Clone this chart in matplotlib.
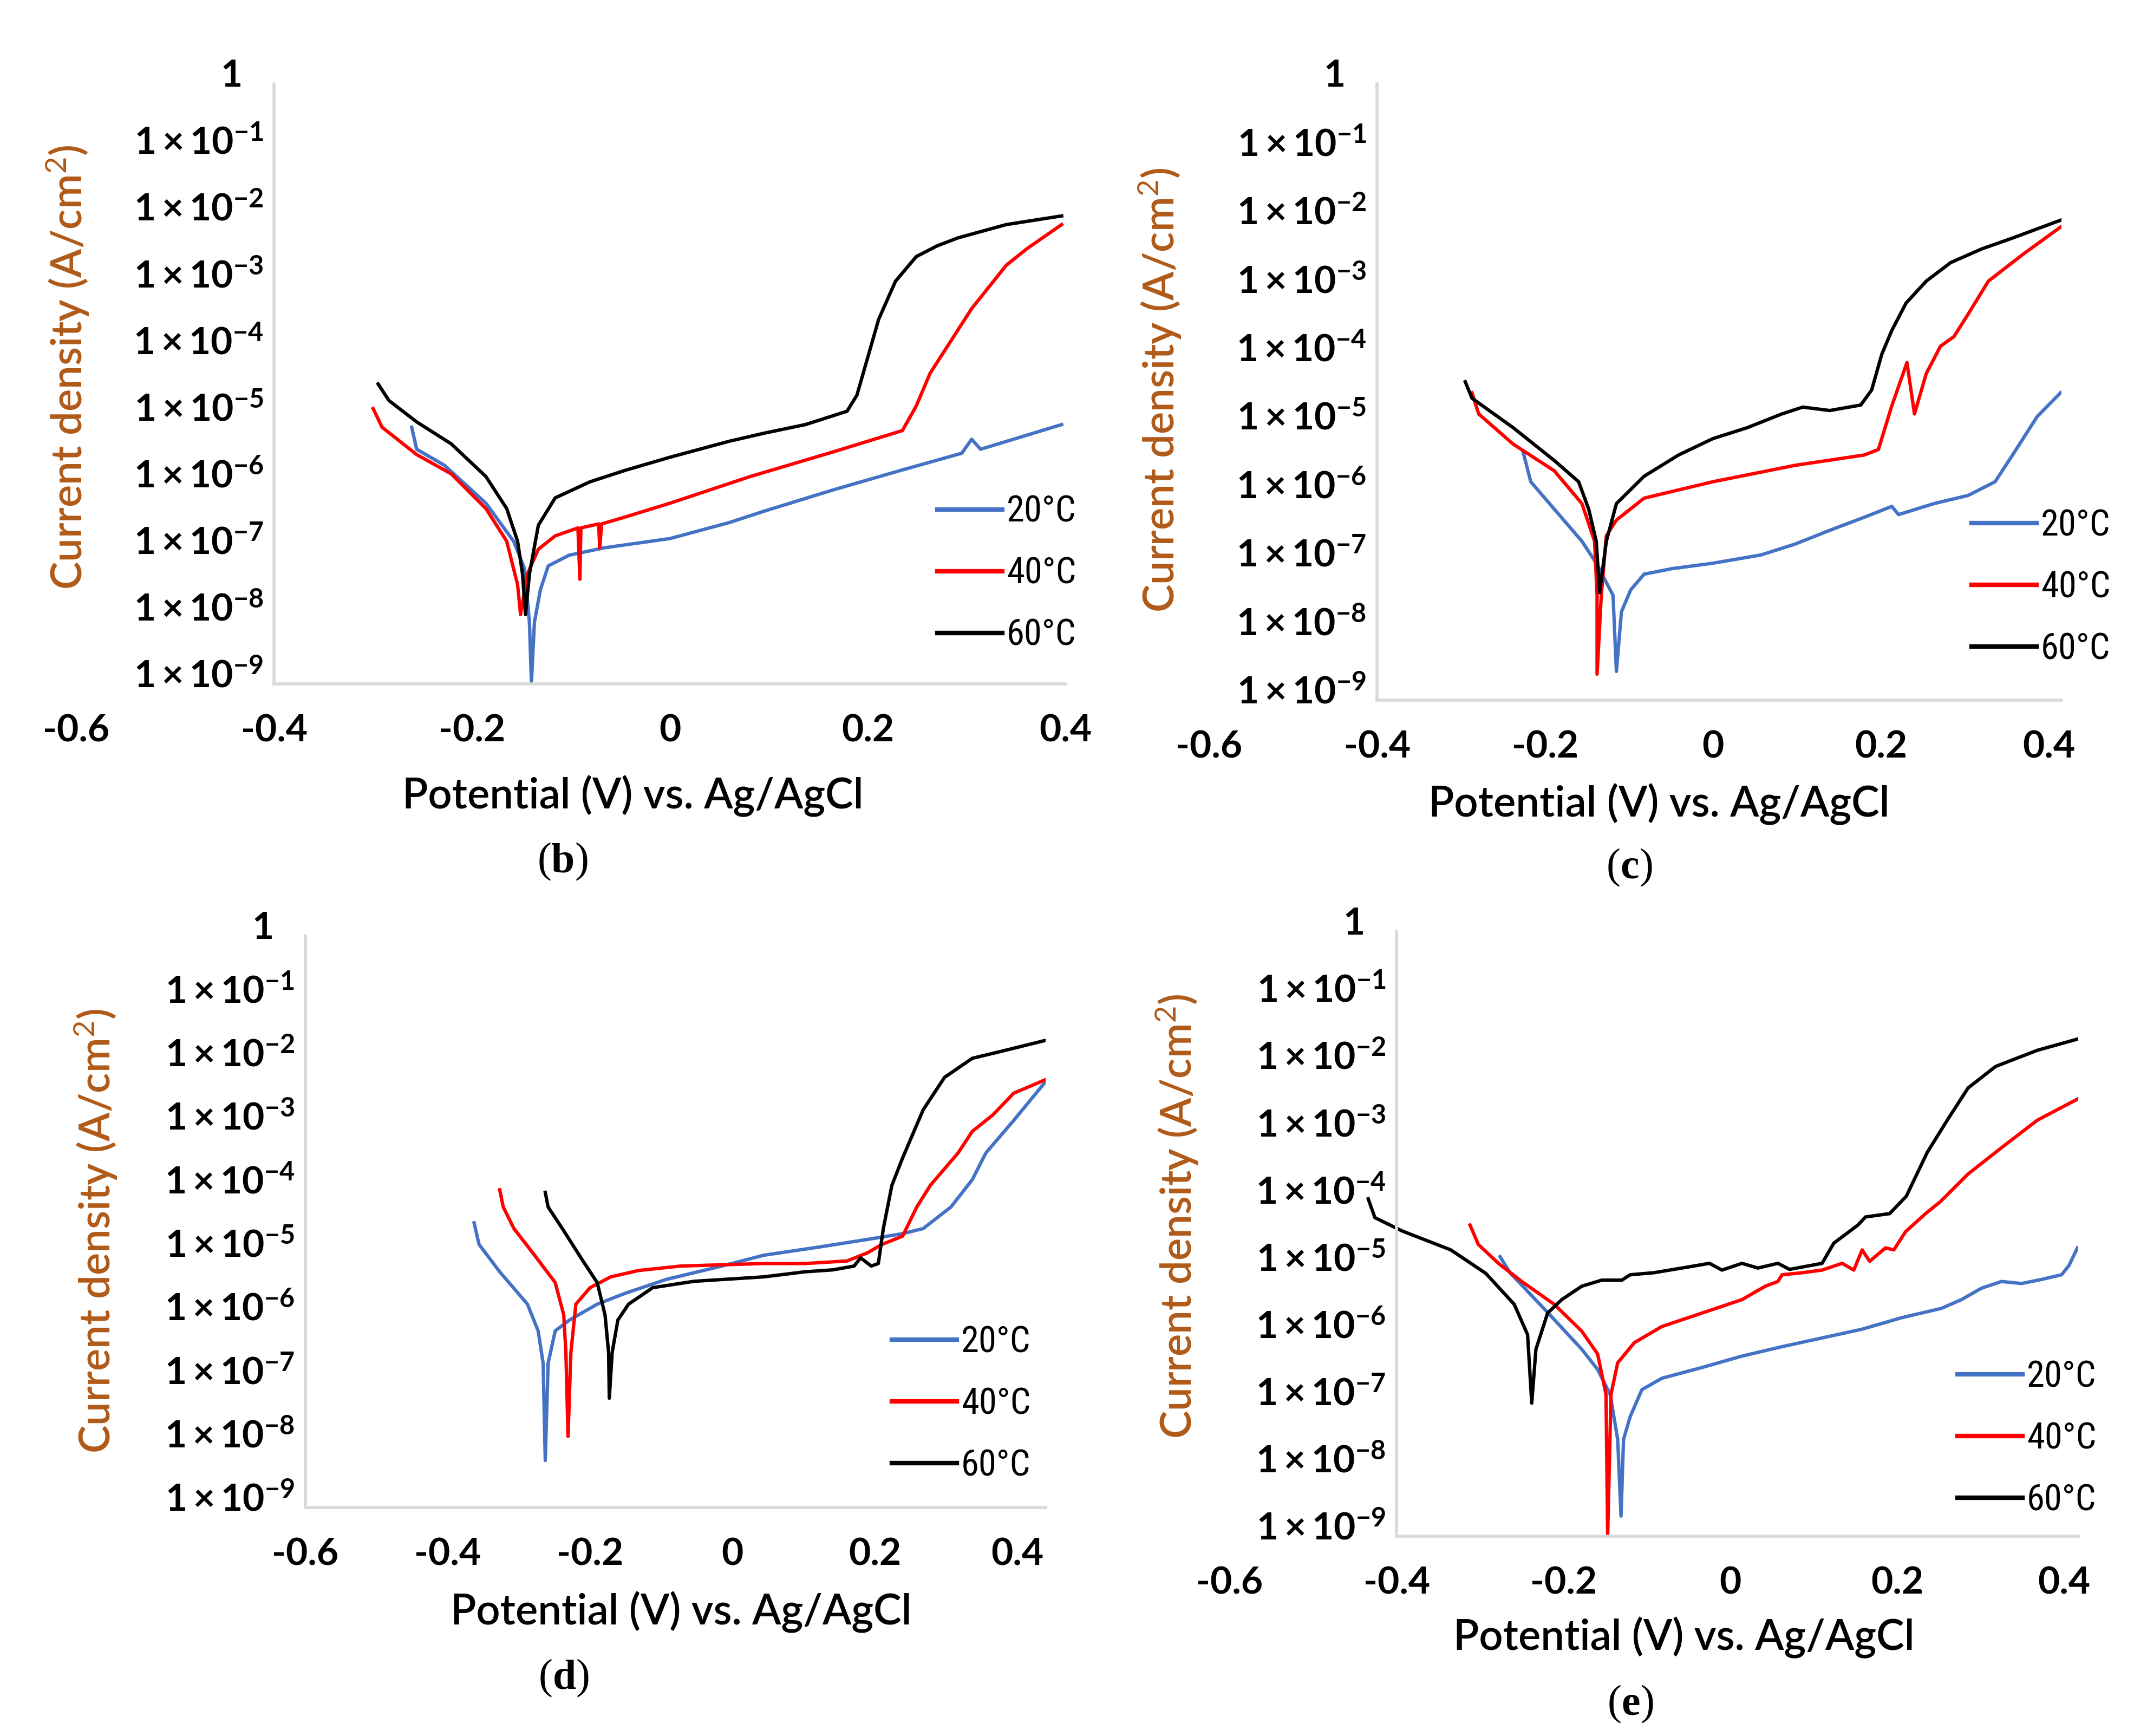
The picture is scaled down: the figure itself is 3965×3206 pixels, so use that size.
import numpy as np
import matplotlib.pyplot as plt
from matplotlib import font_manager
from matplotlib.font_manager import FontProperties
from matplotlib.offsetbox import TextArea, HPacker, AnnotationBbox
from matplotlib.transforms import ScaledTranslation

plt.rcParams['font.family'] = ['Lato', 'DejaVu Sans']
plt.rcParams['mathtext.fontset'] = 'custom'
plt.rcParams['mathtext.rm'] = 'Lato'
plt.rcParams['mathtext.bf'] = 'Lato:bold'
plt.rcParams['mathtext.it'] = 'Lato:italic'
plt.rcParams['axes.unicode_minus'] = False

# ---- data: potential (V vs Ag/AgCl) and log10 of current density (A/cm2)
temps = ['20°C', '40°C', '60°C']
colors = ['#4472C4', '#FF0000', '#000000']

# (b)
b_20_E = [-0.261, -0.256, -0.228, -0.186, -0.158, -0.147, -0.142, -0.140, -0.137, -0.131, -0.123,
          -0.102, -0.067, 0.0, 0.060, 0.095, 0.165, 0.235, 0.295, 0.305, 0.314, 0.396]
b_20_logi = [-5.15, -5.48, -5.72, -6.29, -6.86, -7.27, -8.08, -8.98, -8.08, -7.59, -7.23,
             -7.07, -6.96, -6.82, -6.58, -6.41, -6.09, -5.79, -5.54, -5.33, -5.48, -5.11]
b_40_E = [-0.300, -0.291, -0.256, -0.221, -0.186, -0.165, -0.154, -0.151, -0.144, -0.133, -0.116,
          -0.093, -0.091, -0.090, -0.072, -0.071, -0.069, -0.046, 0.0, 0.081, 0.165, 0.235, 0.249,
          0.263, 0.305, 0.340, 0.361, 0.396]
b_40_logi = [-4.87, -5.15, -5.56, -5.85, -6.37, -6.86, -7.51, -7.96, -7.35, -6.98, -6.78,
             -6.66, -7.43, -6.66, -6.60, -6.96, -6.60, -6.50, -6.29, -5.89, -5.52, -5.20, -4.83,
             -4.34, -3.37, -2.72, -2.47, -2.11]
b_60_E = [-0.295, -0.284, -0.256, -0.221, -0.186, -0.165, -0.154, -0.149, -0.146, -0.142, -0.133,
          -0.116, -0.081, -0.046, 0.0, 0.060, 0.095, 0.137, 0.179, 0.189, 0.200, 0.211, 0.228,
          0.249, 0.270, 0.291, 0.340, 0.396]
b_60_logi = [-4.50, -4.75, -5.07, -5.40, -5.89, -6.37, -6.86, -7.35, -7.96, -7.35, -6.62,
             -6.21, -5.97, -5.80, -5.60, -5.36, -5.24, -5.11, -4.91, -4.67, -4.10, -3.53, -2.96,
             -2.59, -2.43, -2.31, -2.11, -1.98]

# (c)
c_20_E = [-0.226, -0.217, -0.189, -0.156, -0.139, -0.127, -0.119, -0.115, -0.109, -0.098, -0.082,
          -0.049, 0.0, 0.057, 0.098, 0.139, 0.180, 0.213, 0.221, 0.263, 0.304, 0.336, 0.361,
          0.386, 0.414]
c_20_logi = [-5.38, -5.81, -6.21, -6.68, -7.00, -7.28, -7.47, -8.58, -7.71, -7.39, -7.16,
             -7.08, -7.00, -6.88, -6.72, -6.52, -6.33, -6.17, -6.29, -6.13, -6.01, -5.81, -5.34,
             -4.86, -4.51]
c_40_E = [-0.287, -0.279, -0.238, -0.189, -0.156, -0.141, -0.138, -0.138, -0.133, -0.127, -0.115,
          -0.082, 0.0, 0.098, 0.180, 0.197, 0.213, 0.231, 0.240, 0.254, 0.271, 0.287, 0.304,
          0.328, 0.369, 0.414]
c_40_logi = [-4.51, -4.82, -5.26, -5.65, -6.13, -6.68, -7.47, -8.62, -7.47, -6.60, -6.37,
             -6.05, -5.81, -5.57, -5.42, -5.34, -4.70, -4.07, -4.82, -4.23, -3.83, -3.69, -3.36,
             -2.88, -2.49, -2.09]
c_60_E = [-0.295, -0.287, -0.238, -0.189, -0.160, -0.148, -0.139, -0.135, -0.127, -0.115, -0.082,
          -0.041, 0.0, 0.041, 0.082, 0.107, 0.139, 0.176, 0.189, 0.201, 0.213, 0.230, 0.254,
          0.283, 0.320, 0.357, 0.414]
c_60_logi = [-4.35, -4.59, -5.02, -5.50, -5.81, -6.21, -6.68, -7.43, -6.68, -6.13, -5.73,
             -5.42, -5.18, -5.02, -4.82, -4.72, -4.77, -4.69, -4.47, -3.95, -3.60, -3.20, -2.88,
             -2.61, -2.41, -2.25, -1.99]

# (d)
d_20_E = [-0.363, -0.356, -0.327, -0.288, -0.273, -0.266, -0.263, -0.259, -0.249, -0.229, -0.190,
          -0.151, -0.093, -0.015, 0.044, 0.122, 0.190, 0.239, 0.268, 0.307, 0.337, 0.356, 0.395,
          0.439]
d_20_logi = [-4.52, -4.86, -5.29, -5.80, -6.22, -6.73, -8.26, -6.73, -6.22, -6.05, -5.80,
             -5.63, -5.41, -5.20, -5.03, -4.90, -4.78, -4.69, -4.61, -4.27, -3.84, -3.42, -2.91,
             -2.31]
d_40_E = [-0.327, -0.322, -0.307, -0.278, -0.249, -0.237, -0.234, -0.231, -0.227, -0.220, -0.200,
          -0.171, -0.132, -0.073, 0.044, 0.102, 0.161, 0.190, 0.210, 0.239, 0.259, 0.278, 0.317,
          0.337, 0.366, 0.395, 0.439]
d_40_logi = [-4.00, -4.27, -4.61, -5.03, -5.46, -5.97, -6.56, -7.88, -6.56, -5.80, -5.54,
             -5.37, -5.27, -5.20, -5.16, -5.16, -5.12, -4.99, -4.86, -4.73, -4.27, -3.93, -3.42,
             -3.08, -2.82, -2.48, -2.27]
d_60_E = [-0.263, -0.259, -0.239, -0.210, -0.190, -0.179, -0.174, -0.173, -0.169, -0.161, -0.146,
          -0.112, -0.054, 0.044, 0.102, 0.141, 0.171, 0.180, 0.195, 0.205, 0.212, 0.224, 0.239,
          0.268, 0.298, 0.337, 0.385, 0.439]
d_60_logi = [-4.04, -4.27, -4.61, -5.12, -5.46, -5.97, -6.56, -7.28, -6.56, -6.05, -5.80,
             -5.54, -5.44, -5.37, -5.29, -5.26, -5.20, -5.07, -5.20, -5.16, -4.61, -3.93, -3.50,
             -2.74, -2.23, -1.93, -1.80, -1.65]

# (e)
e_20_E = [-0.276, -0.264, -0.216, -0.178, -0.159, -0.144, -0.135, -0.131, -0.128, -0.120, -0.106,
          -0.082, -0.034, 0.014, 0.062, 0.110, 0.158, 0.205, 0.253, 0.277, 0.301, 0.325, 0.349,
          0.373, 0.397, 0.406, 0.416]
e_20_logi = [-4.84, -5.08, -5.71, -6.22, -6.52, -6.89, -7.56, -8.70, -7.56, -7.22, -6.82,
             -6.65, -6.49, -6.32, -6.18, -6.05, -5.92, -5.75, -5.61, -5.48, -5.31, -5.21, -5.24,
             -5.18, -5.11, -4.97, -4.71]
e_40_E = [-0.312, -0.302, -0.277, -0.250, -0.211, -0.178, -0.159, -0.149, -0.147, -0.143, -0.135,
          -0.115, -0.082, -0.034, 0.014, 0.042, 0.057, 0.062, 0.086, 0.110, 0.134, 0.148, 0.158,
          0.167, 0.186, 0.196, 0.210, 0.234, 0.252, 0.285, 0.326, 0.368, 0.417]
e_40_logi = [-4.37, -4.66, -4.95, -5.21, -5.55, -5.95, -6.29, -6.89, -8.99, -6.89, -6.42,
             -6.12, -5.88, -5.68, -5.48, -5.28, -5.21, -5.11, -5.08, -5.04, -4.94, -5.04, -4.74,
             -4.91, -4.71, -4.74, -4.47, -4.20, -4.02, -3.61, -3.21, -2.81, -2.49]
e_60_E = [-0.434, -0.426, -0.393, -0.335, -0.293, -0.259, -0.243, -0.238, -0.233, -0.219, -0.202,
          -0.178, -0.154, -0.130, -0.120, -0.092, -0.058, -0.025, -0.010, 0.014, 0.033, 0.057,
          0.071, 0.110, 0.124, 0.153, 0.162, 0.191, 0.211, 0.236, 0.260, 0.285, 0.318, 0.368, 0.417]
e_60_logi = [-3.98, -4.26, -4.46, -4.74, -5.09, -5.55, -6.00, -7.02, -6.22, -5.68, -5.48,
             -5.28, -5.19, -5.19, -5.11, -5.08, -5.01, -4.94, -5.04, -4.94, -5.01, -4.94,
             -5.03, -4.94, -4.64, -4.37, -4.25, -4.20, -3.94, -3.29, -2.81, -2.33, -2.01, -1.77, -1.60]

xticks = [-0.6, -0.4, -0.2, 0, 0.2, 0.4]
xtick_labels = ['-0.6', '-0.4', '-0.2', '0', '0.2', '0.4']
ytick_exp = list(range(-9, 1))

# ---- layout (pixels on the 3965x3206 canvas)
W, H = 3965, 3206
panels = [
    # letter, curves, frame (l, t, r, b), xmax, y-axis crossing, legend anchor, ylabel, xlabel, letter
    ('b', [(b_20_E, b_20_logi), (b_40_E, b_40_logi), (b_60_E, b_60_logi)],
     (141, 155, 1968, 1263), 0.40, -0.4, (1731, 1060), (125, 678), (1169, 1470), (1040, 1592)),
    ('c', [(c_20_E, c_20_logi), (c_40_E, c_40_logi), (c_60_E, c_60_logi)],
     (2233, 155, 3807, 1293), 0.415, -0.4, (3641, 1085), (2142, 720), (3064, 1485), (3010, 1603)),
    ('d', [(d_20_E, d_20_logi), (d_40_E, d_40_logi), (d_60_E, d_60_logi)],
     (564, 1728, 1931, 2784), 0.44, -0.6, (1647, 2593), (177, 2273), (1258, 2977), (1042, 3100)),
    ('e', [(e_20_E, e_20_logi), (e_40_E, e_40_logi), (e_60_E, e_60_logi)],
     (2271, 1720, 3838, 2837), 0.417, -0.4, (3615, 2657), (2174, 2246), (3110, 3024), (3012, 3148)),
]


def pick_narrow_font():
    # the legend text in the picture is a condensed sans
    tries = [('Liberation Sans Narrow', 'normal'), ('Roboto Condensed', 'normal'),
             ('DejaVu Sans', 'condensed'), ('Open Sans', 'condensed'), ('Roboto', 'condensed')]
    for fam, stretch in tries:
        try:
            path = font_manager.findfont(FontProperties(family=fam, stretch=stretch),
                                         fallback_to_default=False)
        except ValueError:
            continue
        name = path.lower()
        if 'narrow' in name or 'condensed' in name:
            return dict(family=fam, stretch=stretch)
    return dict(family='Roboto')


def fx(px):
    return px / W


def fy(py):
    return 1 - py / H


def panel_letter(fig, letter, pos):
    tp = dict(family='Liberation Serif', size=56, color='black')
    parts = [TextArea('(', textprops=tp),
             TextArea(letter, textprops=dict(tp, weight='bold')),
             TextArea(')', textprops=tp)]
    box = HPacker(children=parts, align='baseline', pad=0, sep=0)
    ab = AnnotationBbox(box, (fx(pos[0]), fy(pos[1])), xycoords='figure fraction',
                        frameon=False, box_alignment=(0.5, 0.5))
    fig.add_artist(ab)


def plot_panel(fig, spec, legend_font):
    letter, curves, frame, xmax, cross, leg_pos, ylab_pos, xlab_pos, let_pos = spec
    l, t, r, b = frame
    ax = fig.add_axes([fx(l), fy(b), fx(r) - fx(l), fy(t) - fy(b)])

    for (E, logi), c, lab in zip(curves, colors, temps):
        ax.plot(E, 10.0 ** np.array(logi), color=c, lw=4.5, label=lab, solid_joinstyle='round')

    ax.set_yscale('log')
    ax.set_ylim(1e-9, 1)
    ax.set_xlim(-0.6, xmax)

    for s in ['top', 'right']:
        ax.spines[s].set_visible(False)
    for s in ['left', 'bottom']:
        ax.spines[s].set_color('#D9D9D9')
        ax.spines[s].set_linewidth(4)
    ax.spines['left'].set_position(('data', cross))
    ax.spines['bottom'].set_bounds(cross, xmax)

    ax.set_xticks(xticks)
    ax.set_xticklabels(xtick_labels, fontsize=50, fontweight='bold')
    ax.set_yticks([10.0 ** k for k in ytick_exp])
    ylabels = [r'$\mathbf{1}$' if k == 0 else r'$\mathbf{1\times10^{%d}}$' % k
               for k in ytick_exp]
    ax.set_yticklabels(ylabels, fontsize=50)
    ax.minorticks_off()
    ax.tick_params(axis='both', length=0)
    ax.tick_params(axis='x', pad=40)
    ax.tick_params(axis='y', pad=14)
    # the y labels sit a little above their decades in the original, the top "1" further left
    for k, lab in zip(ytick_exp, ax.get_yticklabels()):
        dx = -0.42 if k == 0 else 0
        lab.set_transform(lab.get_transform() + ScaledTranslation(dx, 0.2, fig.dpi_scale_trans))

    ax.set_ylabel('Current density (A/cm$^2$)', fontsize=56, fontweight='semibold',
                  color='#B05A18', va='center', ha='center')
    ax.yaxis.set_label_coords(fx(ylab_pos[0]), fy(ylab_pos[1]), transform=fig.transFigure)
    ax.set_xlabel('Potential (V) vs. Ag/AgCl', fontsize=56, fontweight='semibold',
                  va='center', ha='center')
    ax.xaxis.set_label_coords(fx(xlab_pos[0]), fy(xlab_pos[1]), transform=fig.transFigure)

    leg = ax.legend(loc='center left', bbox_to_anchor=(fx(leg_pos[0]), fy(leg_pos[1])),
                    bbox_transform=fig.transFigure, frameon=False, borderpad=0, borderaxespad=0,
                    handlelength=1.8, handletextpad=0.12, labelspacing=0.75,
                    prop=dict(size=48, **legend_font))
    for ln in leg.get_lines():
        ln.set_linewidth(6)

    panel_letter(fig, letter, let_pos)
    return ax


fig = plt.figure(figsize=(W / 100, H / 100), dpi=100)
legend_font = pick_narrow_font()
for spec in panels:
    plot_panel(fig, spec, legend_font)

fig.savefig('out.png', dpi=100)
